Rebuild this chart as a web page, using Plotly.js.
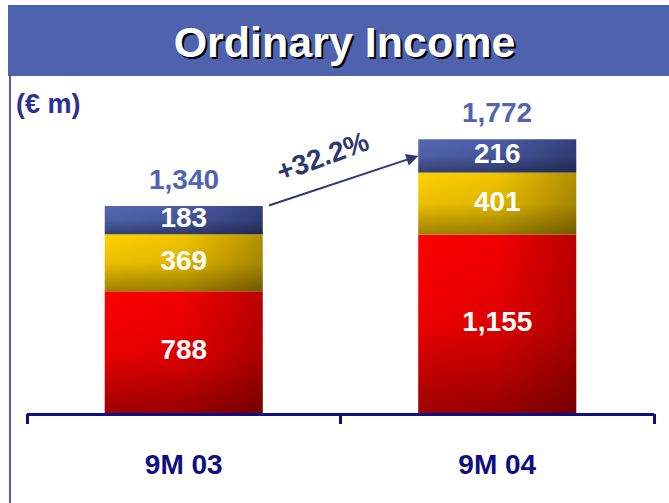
<!DOCTYPE html>
<html>
<head>
<meta charset="utf-8">
<script src="https://cdn.plot.ly/plotly-3.0.1.min.js"></script>
<style>
  html, body { margin: 0; padding: 0; background: #fff; }
  #chart { width: 669px; height: 503px; }
</style>
</head>
<body>
<div id="chart"></div>
<script>
const chartTitle = "Ordinary Income";
const unitLabel = "(€ m)";
const periods = ["9M 03", "9M 04"];
const segRed = [788, 1155];
const segYellow = [369, 401];
const segBlue = [183, 216];
const totals = [1340, 1772];

const NAVY = "#0e0e84";
const FONT = "Liberation Sans, Arial, sans-serif";
const halfWidth = 0.252;

// bottom to top, each with a left->right gradient
const series = [
  { values: segRed, grad: [[0, "#ff0000"], [0.5, "#f20000"], [1, "#bc0000"]] },
  { values: segYellow, grad: [[0, "#ffd000"], [0.5, "#f2c400"], [1, "#b49000"]] },
  { values: segBlue, grad: [[0, "#5468b4"], [0.5, "#4a5ca6"], [1, "#34407c"]] },
];
// darkens towards the bottom of each segment
const shade = [[0, "rgba(0,0,0,0.38)"], [0.5, "rgba(0,0,0,0.08)"], [1, "rgba(0,0,0,0)"]];

const fmt = (v) => v.toLocaleString("en-US");

const traces = [];
const base = periods.map(() => 0);
const labelX = [], labelY = [], labelText = [];

series.forEach((s) => {
  s.values.forEach((v, i) => {
    const y0 = base[i];
    const y1 = base[i] + v;
    const xs = [i - halfWidth, i + halfWidth, i + halfWidth, i - halfWidth, i - halfWidth];
    const ys = [y0, y0, y1, y1, y0];
    traces.push({
      type: "scatter", x: xs, y: ys, mode: "none", fill: "toself",
      fillgradient: { type: "horizontal", colorscale: s.grad },
      hoverinfo: "skip", showlegend: false,
    });
    traces.push({
      type: "scatter", x: xs, y: ys, mode: "none", fill: "toself",
      fillgradient: { type: "vertical", colorscale: shade },
      hoverinfo: "skip", showlegend: false,
    });
    labelX.push(i);
    labelY.push(y0 + v / 2);
    labelText.push(fmt(v));
    base[i] = y1;
  });
});

// segment values
traces.push({
  type: "scatter", x: labelX, y: labelY, text: labelText, mode: "text",
  textposition: "middle center",
  textfont: { family: FONT, size: 28, color: "#ffffff", weight: "bold" },
  hoverinfo: "skip", showlegend: false,
});

// empty trace so the boundary-tick axis gets drawn
traces.push({ type: "scatter", x: [], y: [], xaxis: "x2", yaxis: "y", showlegend: false });

const growth = "+" + ((totals[1] / totals[0] - 1) * 100).toFixed(1) + "%";

const annotations = totals.map((t, i) => ({
  x: i, y: t, xref: "x", yref: "y", text: fmt(t), showarrow: false,
  yanchor: "bottom", yshift: 9,
  font: { family: FONT, size: 28, color: "#5064b0", weight: "bold" },
}));

const tailX = 0 + halfWidth + 0.015, tailY = totals[0];
const headX = 1 - halfWidth, headY = totals[1] - segBlue[1] / 2;

annotations.push({
  x: headX, y: headY, xref: "x", yref: "y",
  ax: tailX, ay: tailY, axref: "x", ayref: "y",
  text: "", showarrow: true, arrowhead: 2, arrowsize: 1.2, arrowwidth: 2,
  arrowcolor: "#2c3a70", standoff: 0,
});
annotations.push({
  x: (tailX + headX) / 2, y: (tailY + headY) / 2, xref: "x", yref: "y",
  text: growth, showarrow: false, textangle: -20, xshift: -20, yshift: 24,
  font: { family: FONT, size: 28, color: "#2c3a70", weight: "bold" },
});
annotations.push({
  x: 14 / 669, y: 1 - 104 / 503, xref: "paper", yref: "paper",
  xanchor: "left", yanchor: "middle", text: unitLabel, showarrow: false,
  font: { family: FONT, size: 27, color: "#2e2e96", weight: "bold" },
});

const layout = {
  width: 669, height: 503,
  margin: { l: 0, r: 0, t: 0, b: 0 },
  paper_bgcolor: "#ffffff", plot_bgcolor: "rgba(0,0,0,0)",
  title: {
    text: chartTitle, x: 0.515, xanchor: "center", y: 1 - 42 / 503, yanchor: "middle",
    font: { family: FONT, size: 43, color: "#ffffff", weight: "bold", shadow: "2px 2px 0px #000000" },
  },
  xaxis: {
    domain: [27 / 669, 654 / 669], range: [-0.5, 1.5], anchor: "y",
    tickvals: periods.map((p, i) => i), ticktext: periods, ticks: "",
    tickfont: { family: FONT, size: 28, color: NAVY, weight: "bold" },
    ticklabelstandoff: 24,
    showline: true, linecolor: NAVY, linewidth: 3,
    showgrid: false, zeroline: false, fixedrange: true,
  },
  xaxis2: {
    overlaying: "x", matches: "x", anchor: "y", domain: [27 / 669, 654 / 669],
    tickvals: [-0.5, 0.5, 1.5], ticks: "outside", ticklen: 10, tickwidth: 3, tickcolor: NAVY,
    showticklabels: false, showline: false, showgrid: false, zeroline: false,
  },
  yaxis: {
    domain: [(503 - 413) / 503, (503 - 104) / 503], range: [0, 2000],
    visible: false, fixedrange: true,
  },
  shapes: [
    {
      type: "rect", xref: "paper", yref: "paper", layer: "below",
      x0: 8 / 669, x1: 1, y0: 1 - 76 / 503, y1: 1 - 5 / 503,
      fillcolor: "#4f62ae", line: { width: 0 },
    },
    {
      type: "line", xref: "paper", yref: "paper",
      x0: 10 / 669, x1: 10 / 669, y0: 0, y1: 1 - 76 / 503,
      line: { color: "#5a5aa8", width: 2 },
    },
  ],
  annotations: annotations,
  showlegend: false,
};

Plotly.newPlot("chart", traces, layout, { displayModeBar: false, staticPlot: true });
</script>
</body>
</html>
